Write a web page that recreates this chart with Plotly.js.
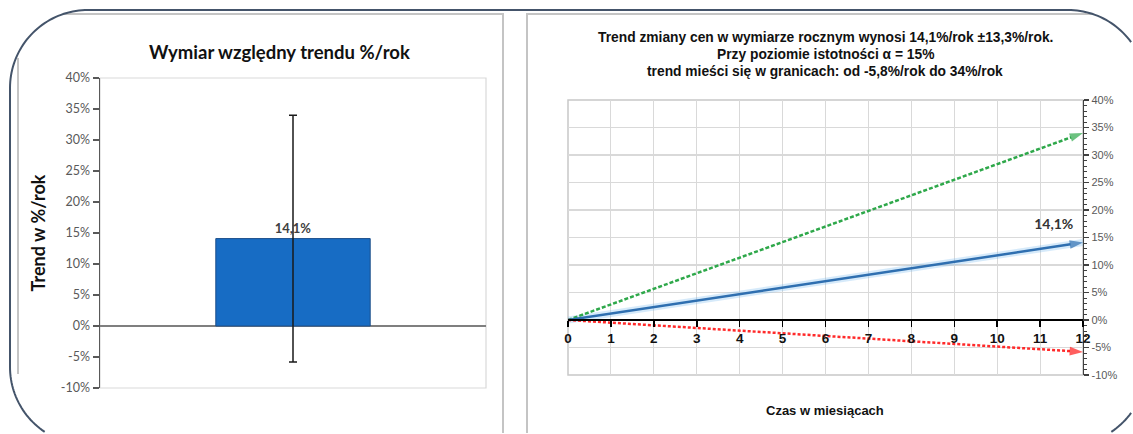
<!DOCTYPE html>
<html>
<head>
<meta charset="utf-8">
<script src="https://cdn.plot.ly/plotly-3.0.1.min.js"></script>
<style>html,body{margin:0;padding:0;background:#fff;overflow:hidden;}#chart{width:1133px;height:434px;}</style>
</head>
<body>
<div id="chart"></div>
<script>
// ---- data ----
const barCategory = ['Trend'];
const barValue = [14.1];
const barErrPlus = [19.9];   // up to 34%
const barErrMinus = [19.9];  // down to -5.8%
const barLabel = ['14,1%'];

const months = [0, 12];
const trendLine = [0, 14.1];
const upperLine = [0, 34];
const lowerLine = [0, -5.8];
const trendLabel = ['', '14,1%'];

const yTickVals = [-10, -5, 0, 5, 10, 15, 20, 25, 30, 35, 40];
const yTickText = ['-10%', '-5%', '0%', '5%', '10%', '15%', '20%', '25%', '30%', '35%', '40%'];
const monthTicks = [0, 1, 2, 3, 4, 5, 6, 7, 8, 9, 10, 11, 12];

const titleLeft = 'Wymiar względny trendu %/rok';
const titleRight = ['Trend zmiany cen w wymiarze rocznym wynosi 14,1%/rok ±13,3%/rok.',
                    'Przy poziomie istotności α = 15%',
                    'trend mieści się w granicach: od -5,8%/rok do 34%/rok'];
const yTitleLeft = 'Trend w %/rok';
const xTitleRight = 'Czas w miesiącach';

// ---- layout helpers (pixel -> paper) ----
const W = 1133, H = 434;
const px = x => x / W;
const py = y => 1 - y / H;
const P = (x, y) => px(x).toFixed(5) + ',' + py(y).toFixed(5);

function roundRectPoints(x0, y0, x1, y1, r) {
  const pts = [];
  const arc = (cx, cy, a0, a1) => {
    const n = 40;
    for (let i = 0; i <= n; i++) {
      const a = a0 + (a1 - a0) * i / n;
      pts.push([cx + r * Math.cos(a), cy + r * Math.sin(a)]);
    }
  };
  arc(x1 - r, y0 + r, -Math.PI / 2, 0);
  arc(x1 - r, y1 - r, 0, Math.PI / 2);
  arc(x0 + r, y1 - r, Math.PI / 2, Math.PI);
  arc(x0 + r, y0 + r, Math.PI, 1.5 * Math.PI);
  pts.push(pts[0]);
  return pts;
}
function visibleRuns(pts) {
  const inside = p => p[0] >= 0.5 && p[0] <= W - 0.5 && p[1] >= 0.5 && p[1] <= H - 0.5;
  const runs = [];
  let cur = [];
  for (const p of pts) {
    if (inside(p)) cur.push(p);
    else { if (cur.length > 1) runs.push(cur); cur = []; }
  }
  if (cur.length > 1) runs.push(cur);
  return runs.map(run => 'M' + run.map(p => P(p[0], p[1])).join(' L'));
}

const frameRuns = visibleRuns(roundRectPoints(10, 10, 1146, 445, 78));

const FONT = 'Lato, "Open Sans", sans-serif';
const ARIAL = '"Liberation Sans", Arial, sans-serif';

const traces = [
  {
    type: 'bar', x: barCategory, y: barValue, xaxis: 'x', yaxis: 'y',
    width: 0.4,
    marker: {color: '#176cc4', line: {color: '#1c4f8a', width: 1}},
    text: barLabel, textposition: 'outside', cliponaxis: false,
    textfont: {family: FONT, size: 13, color: '#404040', weight: 'bold'},
    error_y: {type: 'data', symmetric: false, array: barErrPlus, arrayminus: barErrMinus,
              color: '#1a1a1a', thickness: 1.5, width: 4},
    hoverinfo: 'skip'
  },
  // glow under trend line
  {
    type: 'scatter', mode: 'lines', x: months, y: trendLine, xaxis: 'x3', yaxis: 'y3',
    line: {color: 'rgba(120,185,240,0.3)', width: 7}, hoverinfo: 'skip'
  },
  {
    type: 'scatter', mode: 'lines+markers', x: months, y: upperLine, xaxis: 'x3', yaxis: 'y3',
    line: {color: '#2ea84a', width: 2.5, dash: '4px,2px'},
    marker: {symbol: 'arrow', angleref: 'previous', size: [0, 14], color: '#2ea84a', line: {width: 0}},
    cliponaxis: false, hoverinfo: 'skip'
  },
  {
    type: 'scatter', mode: 'lines+markers', x: months, y: lowerLine, xaxis: 'x3', yaxis: 'y3',
    line: {color: '#ff2a2a', width: 2.5, dash: '3px,2px'},
    marker: {symbol: 'arrow', angleref: 'previous', size: [0, 14], color: '#ff1a1a', line: {width: 0}},
    cliponaxis: false, hoverinfo: 'skip'
  },
  {
    type: 'scatter', mode: 'lines+markers+text', x: months, y: trendLine, xaxis: 'x3', yaxis: 'y3',
    line: {color: '#2f6fb0', width: 2.5},
    marker: {symbol: 'arrow', angleref: 'previous', size: [0, 14], color: '#2f6fb0', line: {width: 0}},
    text: trendLabel, textposition: 'top left',
    textfont: {family: FONT, size: 14, color: '#333333', weight: 'bold'},
    cliponaxis: false, hoverinfo: 'skip'
  }
];

const gridC = '#d9d9d9';
const shapes = [
  // panel outlines, kept inside the frame
  {type: 'path', xref: 'paper', yref: 'paper',
   path: 'M' + P(18, H - 60) + ' L' + P(18, 58),
   line: {color: '#c4c4c4', width: 2}, layer: 'below'},
  {type: 'path', xref: 'paper', yref: 'paper',
   path: 'M' + P(64, 14) + ' L' + P(503, 14) + ' L' + P(503, H - 1),
   line: {color: '#c4c4c4', width: 2}, layer: 'below'},
  {type: 'path', xref: 'paper', yref: 'paper',
   path: 'M' + P(527, H - 1) + ' L' + P(527, 14) + ' L' + P(1092, 14),
   line: {color: '#c4c4c4', width: 2}, layer: 'below'},
  // plot area borders
  {type: 'rect', xref: 'x domain', yref: 'y domain', x0: 0, x1: 1, y0: 0, y1: 1,
   line: {color: '#d9d9d9', width: 1.2}, layer: 'below'},
  {type: 'rect', xref: 'x3 domain', yref: 'y3 domain', x0: 0, x1: 1, y0: 0, y1: 1,
   line: {color: '#c8c8c8', width: 1.5}, layer: 'below'}
];
frameRuns.forEach(d => shapes.push({type: 'path', xref: 'paper', yref: 'paper', path: d,
  line: {color: '#44546a', width: 2}, layer: 'above'}));

const layout = {
  width: W, height: H,
  margin: {l: 0, r: 0, t: 0, b: 0},
  paper_bgcolor: '#ffffff', plot_bgcolor: 'rgba(0,0,0,0)',
  showlegend: false,
  font: {family: FONT, color: '#595959'},
  xaxis: {
    domain: [px(100), px(486)], anchor: 'y', type: 'category', range: [-0.5, 0.5],
    showticklabels: false, showgrid: false, showline: false, zeroline: false, ticks: '', fixedrange: true
  },
  yaxis: {
    domain: [py(388), py(78)], anchor: 'x', range: [-10, 40],
    tickvals: yTickVals, ticktext: yTickText,
    ticks: 'outside', ticklen: 6, tickwidth: 1.2, tickcolor: '#595959',
    showline: true, linecolor: '#595959', linewidth: 1.5,
    showgrid: false, zeroline: true, zerolinecolor: '#7f7f7f', zerolinewidth: 1.5,
    tickfont: {family: FONT, size: 12.5, color: '#595959'},
    title: {text: yTitleLeft, font: {family: FONT, size: 18, color: '#111111', weight: 'bold'}, standoff: 10}
  },
  yaxis2: {
    overlaying: 'y', anchor: 'x', domain: [py(388), py(78)], range: [-10, 40],
    tickvals: yTickVals, ticks: 'inside', ticklen: 5, tickwidth: 1.2, tickcolor: '#595959',
    showticklabels: false, showline: false, showgrid: false, zeroline: false
  },
  xaxis3: {
    domain: [px(568), px(1083)], anchor: 'free', position: py(320), range: [0, 12],
    tickvals: monthTicks, showgrid: true, gridcolor: gridC, gridwidth: 1,
    showline: true, linecolor: '#000000', linewidth: 2.2,
    ticks: 'outside', ticklen: 6, tickwidth: 1.5, tickcolor: '#000000',
    zeroline: false,
    tickfont: {family: ARIAL, size: 13.5, color: '#111111', weight: 'bold'}
  },
  xaxis4: {
    overlaying: 'x3', anchor: 'free', position: py(320), domain: [px(568), px(1083)], range: [0, 12],
    tickvals: monthTicks, ticks: 'inside', ticklen: 6, tickwidth: 1.5, tickcolor: '#000000',
    showticklabels: false, showgrid: false, showline: false, zeroline: false
  },
  yaxis3: {
    domain: [py(375), py(100)], anchor: 'x3', side: 'right', range: [-10, 40],
    tickvals: yTickVals, ticktext: yTickText,
    showgrid: true, gridcolor: gridC, gridwidth: 1.2,
    showline: true, linecolor: '#404040', linewidth: 1.3,
    ticks: 'outside', ticklen: 5, tickwidth: 1.2, tickcolor: '#404040',
    minor: {dtick: 1, ticks: 'outside', ticklen: 3, tickwidth: 1, tickcolor: '#404040', showgrid: false},
    zeroline: false,
    tickfont: {family: ARIAL, size: 11, color: '#595959'}
  },
  yaxis4: {
    overlaying: 'y3', anchor: 'x3', side: 'right', domain: [py(375), py(100)], range: [-10, 40],
    tickvals: yTickVals, ticks: 'inside', ticklen: 5, tickwidth: 1.2, tickcolor: '#404040',
    minor: {dtick: 1, ticks: 'inside', ticklen: 3, tickwidth: 1, tickcolor: '#404040'},
    showticklabels: false, showline: false, showgrid: false, zeroline: false
  },
  annotations: [
    {text: titleLeft, xref: 'paper', yref: 'paper', x: px(279), y: py(52), xanchor: 'center', yanchor: 'middle',
     showarrow: false, font: {family: FONT, size: 18.5, color: '#111111', weight: 'bold'}},
    {text: titleRight[0], xref: 'paper', yref: 'paper', x: px(825), y: py(37), xanchor: 'center', yanchor: 'middle',
     showarrow: false, font: {family: ARIAL, size: 13.8, color: '#111111', weight: 'bold'}},
    {text: titleRight[1], xref: 'paper', yref: 'paper', x: px(825), y: py(54), xanchor: 'center', yanchor: 'middle',
     showarrow: false, font: {family: ARIAL, size: 13.8, color: '#111111', weight: 'bold'}},
    {text: titleRight[2], xref: 'paper', yref: 'paper', x: px(825), y: py(71), xanchor: 'center', yanchor: 'middle',
     showarrow: false, font: {family: ARIAL, size: 13.8, color: '#111111', weight: 'bold'}},
    {text: xTitleRight, xref: 'paper', yref: 'paper', x: px(825), y: py(410), xanchor: 'center', yanchor: 'middle',
     showarrow: false, font: {family: ARIAL, size: 13, color: '#111111', weight: 'bold'}}
  ],
  shapes: shapes
};

Plotly.newPlot('chart', traces, layout, {staticPlot: true, displayModeBar: false});
</script>
</body>
</html>
